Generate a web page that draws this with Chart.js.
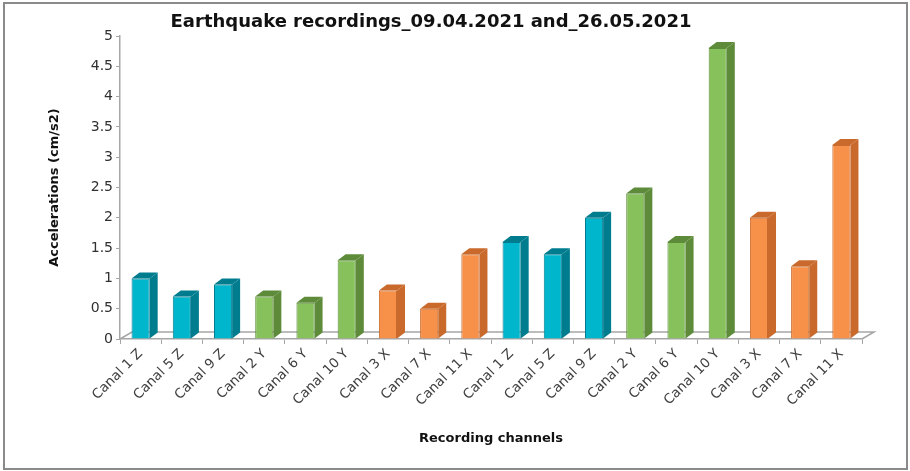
<!DOCTYPE html>
<html>
<head>
<meta charset="utf-8">
<script src="https://cdn.jsdelivr.net/npm/chart.js@4/dist/chart.umd.min.js"></script>
<style>
    html, body { margin: 0; padding: 0; background: #fff; }
    #wrap { position: relative; width: 910px; height: 471px; }
    #frame {
        position: absolute; left: 3px; top: 2px; width: 905px; height: 468px;
        border: 2px solid #8a8a8a; box-sizing: border-box; pointer-events: none;
    }
</style>
</head>
<body>
<div id="wrap">
    <canvas id="quakeChart" width="910" height="471"></canvas>
    <div id="frame"></div>
</div>
<script>
// Channels recorded on both dates (first 9 = 09.04.2021, last 9 = 26.05.2021)
const channels = [
    'Canal 1 Z', 'Canal 5 Z', 'Canal 9 Z', 'Canal 2 Y', 'Canal 6 Y', 'Canal 10 Y', 'Canal 3 X', 'Canal 7 X', 'Canal 11 X',
    'Canal 1 Z', 'Canal 5 Z', 'Canal 9 Z', 'Canal 2 Y', 'Canal 6 Y', 'Canal 10 Y', 'Canal 3 X', 'Canal 7 X', 'Canal 11 X'
];
// Peak accelerations, cm/s2
const accelerations = [1, 0.7, 0.9, 0.7, 0.6, 1.3, 0.8, 0.5, 1.4, 1.6, 1.4, 2, 2.4, 1.6, 4.8, 2, 1.2, 3.2];
const yTicks = [0, 0.5, 1, 1.5, 2, 2.5, 3, 3.5, 4, 4.5, 5];
const chartTitle = 'Earthquake recordings_09.04.2021 and_26.05.2021';

// colour per component direction (front face / shaded faces)
const palette = {
    Z: { front: '#00b6cd', dark: '#007c8f' },
    Y: { front: '#86c15c', dark: '#5d8b3a' },
    X: { front: '#f7914a', dark: '#c96a2c' }
};
const dirOf = label => label.trim().slice(-1);

const FONT = "'DejaVu Sans', 'Liberation Sans', sans-serif";

// fake 3D: floor behind the bars plus side/top faces of each bar
const depthPlugin = {
    id: 'depth3d',
    beforeDatasetsDraw(chart) {
        const { ctx, chartArea } = chart;
        const fx = 12, fy = 7;
        ctx.save();
        ctx.strokeStyle = '#a6a6a6';
        ctx.lineWidth = 1.5;
        ctx.beginPath();
        ctx.moveTo(chartArea.left, chartArea.bottom);
        ctx.lineTo(chartArea.left + fx, chartArea.bottom - fy);
        ctx.lineTo(chartArea.right + fx, chartArea.bottom - fy);
        ctx.lineTo(chartArea.right, chartArea.bottom);
        ctx.stroke();
        ctx.restore();
    },
    afterDatasetsDraw(chart) {
        const { ctx } = chart;
        const dx = 8, dy = 6;
        const meta = chart.getDatasetMeta(0);
        ctx.save();
        meta.data.forEach((bar, i) => {
            const c = palette[dirOf(channels[i])];
            const left = bar.x - bar.width / 2;
            const right = bar.x + bar.width / 2;
            const top = bar.y, base = bar.base;
            // side face
            ctx.fillStyle = c.dark;
            ctx.beginPath();
            ctx.moveTo(right, base);
            ctx.lineTo(right + dx, base - dy);
            ctx.lineTo(right + dx, top - dy);
            ctx.lineTo(right, top);
            ctx.closePath();
            ctx.fill();
            // top face
            ctx.beginPath();
            ctx.moveTo(left, top);
            ctx.lineTo(left + dx, top - dy);
            ctx.lineTo(right + dx, top - dy);
            ctx.lineTo(right, top);
            ctx.closePath();
            ctx.fill();
        });
        ctx.restore();
    },
    // title sits a little left of the plot centre, so it is drawn by hand
    afterDraw(chart) {
        const { ctx } = chart;
        ctx.save();
        ctx.font = 'bold 18px ' + FONT;
        ctx.fillStyle = '#111';
        ctx.textAlign = 'center';
        ctx.textBaseline = 'middle';
        ctx.fillText(chartTitle, 431, 22);
        ctx.restore();
    }
};

const ctx = document.getElementById('quakeChart').getContext('2d');
new Chart(ctx, {
    type: 'bar',
    data: {
        labels: channels,
        datasets: [{
            data: accelerations,
            backgroundColor: channels.map(l => palette[dirOf(l)].front),
            borderColor: channels.map(l => palette[dirOf(l)].dark),
            borderWidth: 1,
            barPercentage: 0.55,
            categoryPercentage: 0.8
        }]
    },
    options: {
        responsive: false,
        animation: false,
        layout: { padding: { left: 40, right: 48, top: 36, bottom: 0 } },
        plugins: {
            legend: { display: false },
            tooltip: { enabled: false },
            title: { display: false }
        },
        scales: {
            x: {
                offset: true,
                grid: { display: true, drawOnChartArea: false, offset: true, tickLength: 5, color: '#a6a6a6' },
                border: { display: true, color: '#a6a6a6', width: 1.5 },
                ticks: {
                    color: '#404040',
                    font: { family: FONT, size: 13.5 },
                    minRotation: 45,
                    maxRotation: 45,
                    padding: 2,
                    autoSkip: false
                },
                title: {
                    display: true,
                    text: 'Recording channels',
                    color: '#111',
                    font: { family: FONT, size: 13, weight: 'bold' },
                    padding: { top: 4, bottom: 25 }
                },
                afterFit(scale) { scale.height = 132; }
            },
            y: {
                min: 0,
                max: 5,
                afterBuildTicks(scale) { scale.ticks = yTicks.map(v => ({ value: v })); },
                grid: { display: true, drawOnChartArea: false, tickLength: 4, color: '#a6a6a6' },
                border: { display: true, color: '#a6a6a6', width: 1.5 },
                ticks: {
                    color: '#303030',
                    font: { family: FONT, size: 14 },
                    padding: 3,
                    callback: v => String(v)
                },
                title: {
                    display: true,
                    text: 'Accelerations (cm/s2)',
                    color: '#111',
                    font: { family: FONT, size: 13, weight: 'bold' },
                    padding: { top: 7, bottom: 4 }
                },
                afterFit(scale) { scale.width = 80; }
            }
        }
    },
    plugins: [depthPlugin]
});
</script>
</body>
</html>
